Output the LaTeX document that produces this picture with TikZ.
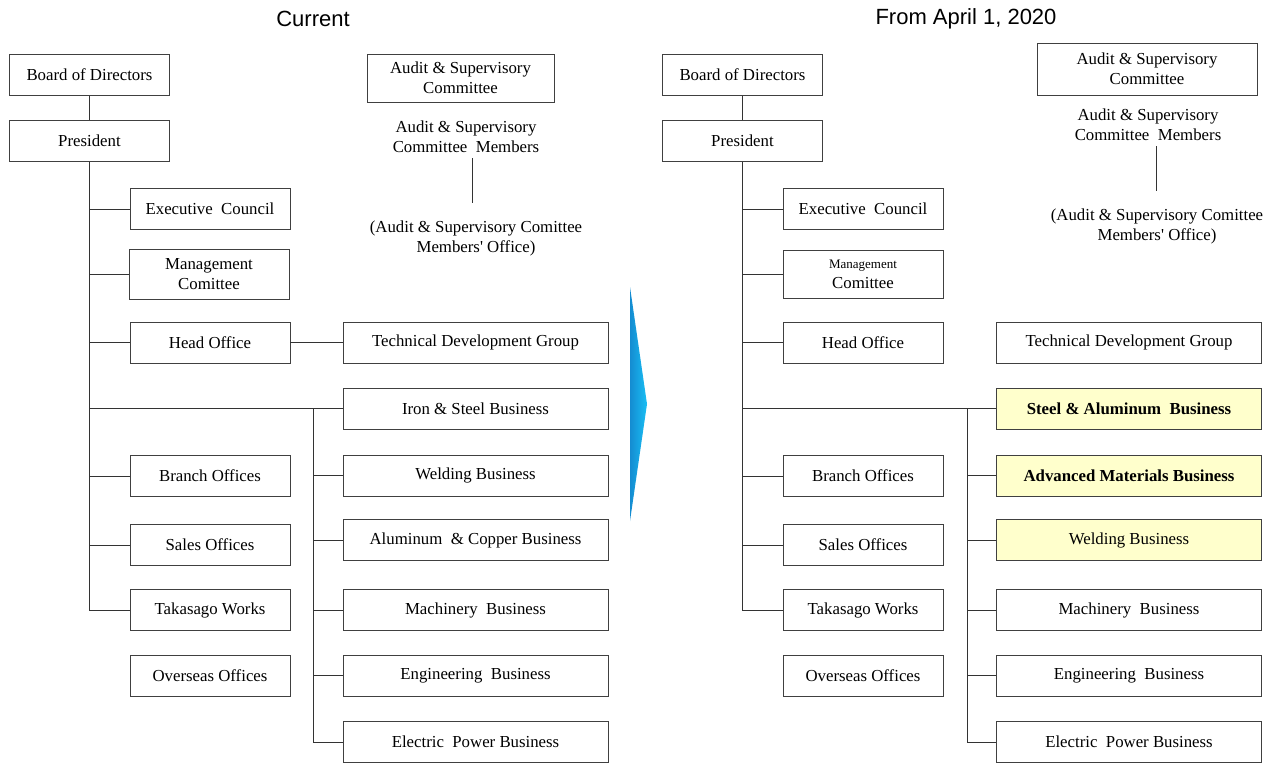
\documentclass[tikz,border=0pt]{standalone}
\usepackage{fontspec}
\setmainfont{Liberation Serif}
\newfontfamily\headfont{Liberation Sans}
\newfontfamily\plainserif{Liberation Serif}
\usepackage{tikz}
\usetikzlibrary{calc}
\definecolor{boxline}{rgb}{0.25, 0.25, 0.25}
\definecolor{paleyellow}{rgb}{1.00, 1.00, 0.80}
\definecolor{arrowdark}{rgb}{0.08, 0.55, 0.82}
\definecolor{arrowlight}{rgb}{0.45, 0.88, 1.00}
\definecolor{arrowcyan}{rgb}{0.10, 0.75, 0.96}
\newcommand{\apos}{{\plainserif '}}
\tikzset{
  unit/.style={
    draw=boxline,
    line width=0.9pt,
    fill=white,
    align=center,
    minimum width=160pt,
    minimum height=41pt,
    inner sep=2pt,
    font=\fontsize{16.8}{20}\selectfont
  },
  biz/.style={
    unit,
    minimum width=265pt
  },
  newbiz/.style={
    biz,
    fill=paleyellow
  },
  audit/.style={
    draw=boxline,
    line width=0.9pt,
    align=center,
    inner sep=2pt,
    font=\fontsize{16.8}{20}\selectfont
  },
  note/.style={
    align=center,
    inner sep=0pt,
    font=\fontsize{16.8}{20}\selectfont
  },
  title/.style={
    font=\headfont\fontsize{22}{24}\selectfont
  },
  link/.style={
    line width=0.9pt,
    draw=black!80
  }
}

\begin{document}
\begin{tikzpicture}[x=1pt,y=-1pt]
\useasboundingbox (0,0) rectangle (1282,763);

% current organisation
\node[title] (tcur) at (313,19) {Current};
\node[unit] (bod) at (89.5,75) {Board of Directors};
\node[unit] (pres) at (89.5,141) {President};
\node[unit] (exe) at (210,209) {Executive\ \ Council};
\node[unit, minimum height=50pt] (mgt) at (209,274) {Management\\Comittee};
\node[unit] (ho) at (210,342.5) {Head Office};
\node[unit] (bro) at (210,476) {Branch Offices};
\node[unit] (sao) at (210,545) {Sales Offices};
\node[unit] (tak) at (210,610) {Takasago Works};
\node[unit] (ovs) at (210,676) {Overseas Offices};
\node[biz] (tdg) at (475.5,342.5) {Technical Development Group};
\node[biz] (iron) at (475.5,408.5) {Iron \& Steel Business};
\node[biz] (weld) at (475.5,475.5) {Welding Business};
\node[biz] (alcu) at (475.5,540) {Aluminum\ \ \& Copper Business};
\node[biz] (mach) at (475.5,610) {Machinery\ \ Business};
\node[biz] (eng) at (475.5,675.5) {Engineering\ \ Business};
\node[biz] (elec) at (475.5,742) {Electric\ \ Power Business};
\node[audit, minimum width=187pt, minimum height=48pt] (asc) at (460.5,78) {Audit \& Supervisory\\Committee};
\node[note] (asm) at (466,137) {Audit \& Supervisory\\Committee\ \ Members};
\node[note] (aso) at (476,238) {(Audit \& Supervisory Comittee\\Members\apos\ Office)};
\coordinate (bj) at (313,408.5);

\draw[link] (bod) -- (pres);
\draw[link] (pres.south) -- (pres.south |- tak.west) -- (tak.west);
\draw[link] (pres.south |- exe.west) -- (exe.west);
\draw[link] (pres.south |- mgt.west) -- (mgt.west);
\draw[link] (pres.south |- ho.west) -- (ho.west);
\draw[link] (pres.south |- bro.west) -- (bro.west);
\draw[link] (pres.south |- sao.west) -- (sao.west);
\draw[link] (ho) -- (tdg);
\draw[link] (pres.south |- iron.west) -- (iron.west);
\draw[link] (bj) |- (elec.west);
\draw[link] (bj |- weld.west) -- (weld.west);
\draw[link] (bj |- alcu.west) -- (alcu.west);
\draw[link] (bj |- mach.west) -- (mach.west);
\draw[link] (bj |- eng.west) -- (eng.west);
\draw[link, line width=0.7pt] ([xshift=6pt]asm.south) ++(0,5) -- ++(0,45);

% transition arrow
\shade[left color=arrowdark, middle color=arrowlight, right color=arrowcyan]
  (630,287) -- (647,404) -- (630,521) -- cycle;

% organisation from April 1, 2020
\node[title] (tnew) at (966,19) {From April 1, 2020};
\node[unit] (bod2) at (742.5,75) {Board of Directors};
\node[unit] (pres2) at (742.5,141) {President};
\node[unit] (exe2) at (863,209) {Executive\ \ Council};
\node[unit, minimum height=48pt] (mgt2) at (863,274) {{\fontsize{13}{15}\selectfont Management}\\Comittee};
\node[unit] (ho2) at (863,342.5) {Head Office};
\node[unit] (bro2) at (863,476) {Branch Offices};
\node[unit] (sao2) at (863,545) {Sales Offices};
\node[unit] (tak2) at (863,610) {Takasago Works};
\node[unit] (ovs2) at (863,676) {Overseas Offices};
\node[biz] (tdg2) at (1129,342.5) {Technical Development Group};
\node[newbiz] (stal) at (1129,408.5) {\textbf{Steel \& Aluminum\ \ Business}};
\node[newbiz] (adv) at (1129,475.5) {\textbf{Advanced Materials Business}};
\node[newbiz] (weld2) at (1129,540) {Welding Business};
\node[biz] (mach2) at (1129,610) {Machinery\ \ Business};
\node[biz] (eng2) at (1129,675.5) {Engineering\ \ Business};
\node[biz] (elec2) at (1129,742) {Electric\ \ Power Business};
\node[audit, minimum width=220pt, minimum height=52pt] (asc2) at (1147,69) {Audit \& Supervisory\\Committee};
\node[note] (asm2) at (1148,125) {Audit \& Supervisory\\Committee\ \ Members};
\node[note] (aso2) at (1157,226) {(Audit \& Supervisory Comittee\\Members\apos\ Office)};
\coordinate (bj2) at (967,408.5);

\draw[link] (bod2) -- (pres2);
\draw[link] (pres2.south) -- (pres2.south |- tak2.west) -- (tak2.west);
\draw[link] (pres2.south |- exe2.west) -- (exe2.west);
\draw[link] (pres2.south |- mgt2.west) -- (mgt2.west);
\draw[link] (pres2.south |- ho2.west) -- (ho2.west);
\draw[link] (pres2.south |- bro2.west) -- (bro2.west);
\draw[link] (pres2.south |- sao2.west) -- (sao2.west);
\draw[link] (pres2.south |- stal.west) -- (stal.west);
\draw[link] (bj2) |- (elec2.west);
\draw[link] (bj2 |- adv.west) -- (adv.west);
\draw[link] (bj2 |- weld2.west) -- (weld2.west);
\draw[link] (bj2 |- mach2.west) -- (mach2.west);
\draw[link] (bj2 |- eng2.west) -- (eng2.west);
\draw[link, line width=0.7pt] ([xshift=8pt]asm2.south) ++(0,5) -- ++(0,45);
\end{tikzpicture}
\end{document}
